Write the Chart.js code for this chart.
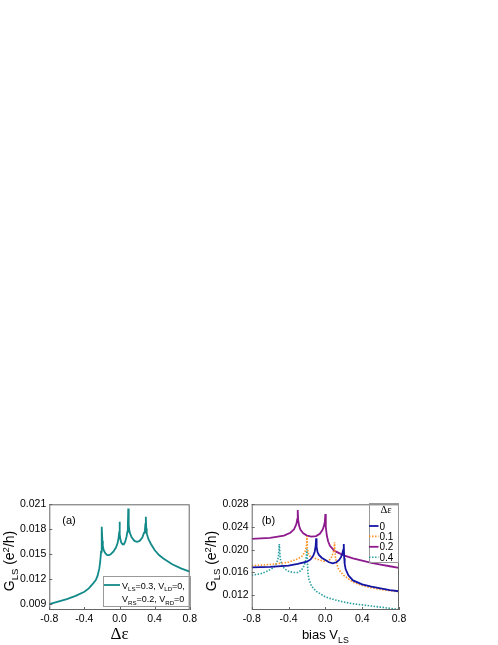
<!DOCTYPE html>
<html lang="en">
<head>
<meta charset="utf-8">
<title>G_LS conductance</title>
<script src="https://cdn.jsdelivr.net/npm/chart.js@4"></script>
<style>
  html, body { margin: 0; padding: 0; background: #fff; width: 498px; height: 645px; overflow: hidden; }
  #chartA { position: absolute; left: 0; top: 495px; }
  #chartB { position: absolute; left: 200px; top: 495px; }
</style>
</head>
<body>
<canvas id="chartA" width="200" height="150"></canvas>
<canvas id="chartB" width="298" height="150"></canvas>

<script>
// ---- data ----
// panel (a): G_LS vs delta epsilon
const xTicks = [-0.8, -0.4, 0.0, 0.4, 0.8];
const yTicksA = [0.009, 0.012, 0.015, 0.018, 0.021];
const yTicksB = [0.012, 0.016, 0.020, 0.024, 0.028];

const epsA = [-0.8, -0.7, -0.6, -0.5, -0.4, -0.35, -0.3, -0.27, -0.25, -0.23, -0.22, -0.21, -0.205, -0.2,
  -0.195, -0.19, -0.18, -0.16, -0.14, -0.12, -0.1, -0.07, -0.04, -0.02, -0.01, -0.005, 0.0,
  0.005, 0.01, 0.02, 0.035, 0.05, 0.065, 0.08, 0.09, 0.095, 0.1,
  0.105, 0.11, 0.12, 0.14, 0.17, 0.2, 0.23, 0.26, 0.28, 0.29, 0.295, 0.3,
  0.305, 0.31, 0.33, 0.36, 0.4, 0.45, 0.5, 0.6, 0.7, 0.8];
const gA = [0.0090, 0.0093, 0.0096, 0.0100, 0.0105, 0.0109, 0.0115, 0.0119, 0.0124, 0.0133, 0.0141, 0.0153, 0.0163, 0.0183,
  0.0166, 0.0160, 0.0155, 0.0151, 0.0149, 0.0149, 0.0150, 0.0153, 0.0158, 0.0164, 0.0170, 0.0175, 0.0189,
  0.0174, 0.0168, 0.0164, 0.0162, 0.0162, 0.0165, 0.0171, 0.0177, 0.0184, 0.0205,
  0.0186, 0.0180, 0.0175, 0.0170, 0.0166, 0.0165, 0.0166, 0.0170, 0.0176, 0.0180, 0.0186, 0.0195,
  0.0181, 0.0175, 0.0168, 0.0162, 0.0155, 0.0149, 0.0145, 0.0138, 0.0133, 0.0129];

// panel (b): G_LS vs bias V_LS, one pair of arrays per delta epsilon
const vb0 = [-0.8, -0.6, -0.4, -0.3, -0.2, -0.16, -0.13, -0.115, -0.105, -0.1, -0.095, -0.085, -0.07, -0.04,
  0.0, 0.04, 0.08, 0.12, 0.15, 0.17, 0.185, 0.195, 0.2, 0.205, 0.21, 0.22, 0.25, 0.3, 0.4, 0.5, 0.6, 0.7, 0.8];
const g0 = [0.0169, 0.0170, 0.0172, 0.0175, 0.0179, 0.0183, 0.0190, 0.0197, 0.0207, 0.0220, 0.0205, 0.0196, 0.0191, 0.0186,
  0.0182, 0.0178, 0.0176, 0.0178, 0.0182, 0.0187, 0.0194, 0.0200, 0.0210, 0.0185, 0.0175, 0.0166, 0.0155, 0.0146, 0.0139, 0.0135, 0.0132, 0.0129, 0.0127];

const vb1 = [-0.8, -0.6, -0.4, -0.3, -0.25, -0.22, -0.205, -0.2, -0.195, -0.185, -0.17, -0.13, -0.08, -0.02,
  0.02, 0.05, 0.07, 0.085, 0.095, 0.1, 0.105, 0.11, 0.12, 0.14, 0.17, 0.2, 0.3, 0.4, 0.5, 0.6, 0.7, 0.8];
const g1 = [0.0172, 0.0174, 0.0178, 0.0184, 0.0189, 0.0197, 0.0207, 0.0224, 0.0202, 0.0193, 0.0189, 0.0186, 0.0183, 0.0180,
  0.0180, 0.0183, 0.0188, 0.0195, 0.0203, 0.0213, 0.0196, 0.0186, 0.0178, 0.0167, 0.0160, 0.0155, 0.0143, 0.0137, 0.0133, 0.0130, 0.0128, 0.0126];

const vb2 = [-0.8, -0.6, -0.45, -0.38, -0.34, -0.315, -0.305, -0.3, -0.295, -0.285, -0.27, -0.24, -0.2, -0.15,
  -0.1, -0.06, -0.03, -0.015, -0.005, 0.0, 0.005, 0.015, 0.03, 0.05, 0.1, 0.15, 0.2, 0.3, 0.4, 0.5, 0.6, 0.7, 0.8];
const g2 = [0.0219, 0.0221, 0.0225, 0.0230, 0.0236, 0.0245, 0.0254, 0.0270, 0.0252, 0.0242, 0.0235, 0.0229, 0.0225, 0.0223,
  0.0224, 0.0228, 0.0235, 0.0242, 0.0250, 0.0263, 0.0240, 0.0226, 0.0215, 0.0207, 0.0198, 0.0194, 0.0190, 0.0185, 0.0181, 0.0177, 0.0174, 0.0171, 0.0168];

const vb4 = [-0.8, -0.7, -0.62, -0.56, -0.53, -0.51, -0.5, -0.49, -0.47, -0.44, -0.4, -0.35, -0.3, -0.26,
  -0.23, -0.21, -0.2, -0.19, -0.18, -0.15, -0.1, -0.05, 0.0, 0.1, 0.2, 0.3, 0.4, 0.5, 0.6, 0.7, 0.8];
const g4 = [0.0155, 0.0158, 0.0163, 0.0169, 0.0176, 0.0187, 0.0210, 0.0185, 0.0172, 0.0166, 0.0162, 0.0160, 0.0160, 0.0164,
  0.0172, 0.0184, 0.0201, 0.0160, 0.0149, 0.0136, 0.0127, 0.0122, 0.0117, 0.0112, 0.0108, 0.0105, 0.0103, 0.0101, 0.0099, 0.0097, 0.0095];

const SANS = '"Liberation Sans", Arial, sans-serif';
const SERIF = '"Liberation Serif", "Times New Roman", serif';

function pts(xs, ys) {
  return xs.map((x, i) => ({ x: x, y: ys[i] }));
}

// text with sub/superscripts: parts = [[text, 'sub'|'sup'|'' ], ...]
function rich(ctx, parts, x, y, size, align, family) {
  const small = size * 0.68;
  let w = 0;
  parts.forEach(p => {
    ctx.font = (p[1] ? small : size) + 'px ' + (family || SANS);
    w += ctx.measureText(p[0]).width;
  });
  let cx = align === 'center' ? x - w / 2 : (align === 'right' ? x - w : x);
  ctx.textAlign = 'left';
  ctx.textBaseline = 'alphabetic';
  ctx.fillStyle = '#000';
  parts.forEach(p => {
    ctx.font = (p[1] ? small : size) + 'px ' + (family || SANS);
    const dy = p[1] === 'sub' ? size * 0.3 : (p[1] === 'sup' ? -size * 0.38 : 0);
    ctx.fillText(p[0], cx, y + dy);
    cx += ctx.measureText(p[0]).width;
  });
}

// box round the plot plus short inward ticks
const framePlugin = {
  id: 'frame',
  afterDatasetsDraw(chart) {
    const ctx = chart.ctx, a = chart.chartArea;
    const sx = chart.scales.x, sy = chart.scales.y;
    ctx.save();
    ctx.strokeStyle = '#666';
    ctx.lineWidth = 1;
    ctx.strokeRect(a.left + 0.5, a.top + 0.5, a.right - a.left - 1, a.bottom - a.top - 1);
    ctx.beginPath();
    sx.ticks.forEach(t => {
      const px = Math.round(sx.getPixelForValue(t.value)) + 0.5;
      ctx.moveTo(px, a.bottom); ctx.lineTo(px, a.bottom - 3);
    });
    sy.ticks.forEach(t => {
      const py = Math.round(sy.getPixelForValue(t.value)) + 0.5;
      ctx.moveTo(a.left, py); ctx.lineTo(a.left + 3, py);
    });
    ctx.stroke();
    ctx.restore();
  }
};

function axes(ymin, ymax, yTicks, yWidth) {
  return {
    x: {
      type: 'linear', min: -0.8, max: 0.8,
      afterBuildTicks: s => { s.ticks = xTicks.map(v => ({ value: v })); },
      afterFit: s => { s.height = 35; },
      ticks: { callback: v => v.toFixed(1), color: '#000', font: { family: SANS, size: 10.5 }, padding: 3, maxRotation: 0, autoSkip: false },
      grid: { display: false, drawTicks: false },
      border: { display: false }
    },
    y: {
      type: 'linear', min: ymin, max: ymax,
      afterBuildTicks: s => { s.ticks = yTicks.map(v => ({ value: v })); },
      afterFit: s => { s.width = yWidth; },
      ticks: { callback: v => v.toFixed(3), color: '#000', font: { family: SANS, size: 10.5 }, padding: 3 },
      grid: { display: false, drawTicks: false },
      border: { display: false }
    }
  };
}

const yTitle = [['G', ''], ['LS', 'sub'], [' (e', ''], ['2', 'sup'], ['/h)', '']];

// ---- panel (a) ----
new Chart(document.getElementById('chartA'), {
  type: 'line',
  data: {
    datasets: [{
      data: pts(epsA, gA),
      borderColor: '#138a8a', borderWidth: 1.8,
      pointRadius: 0, tension: 0, fill: false
    }]
  },
  options: {
    responsive: false, animation: false,
    layout: { padding: { left: 0, top: 8, right: 4, bottom: 0 } },
    plugins: { legend: { display: false }, tooltip: { enabled: false } },
    scales: axes(0.0083, 0.021, yTicksA, 49.3)
  },
  plugins: [framePlugin, {
    id: 'textA',
    afterDraw(chart) {
      const ctx = chart.ctx, a = chart.chartArea;
      ctx.save();
      ctx.translate(14, 66);
      ctx.rotate(-Math.PI / 2);
      rich(ctx, yTitle, 0, 0, 14, 'center');
      ctx.restore();
      ctx.save();
      rich(ctx, [['\u0394\u03b5', '']], (a.left + a.right) / 2, 144, 17, 'center', SERIF);
      rich(ctx, [['(a)', '']], a.left + 13, 29, 11, 'left');
      // legend box
      ctx.strokeStyle = '#999';
      ctx.lineWidth = 1;
      ctx.strokeRect(103.5, 81.5, 87, 30);
      ctx.strokeStyle = '#138a8a';
      ctx.lineWidth = 1.8;
      ctx.beginPath(); ctx.moveTo(104, 90); ctx.lineTo(120, 90); ctx.stroke();
      rich(ctx, [['V', ''], ['LS', 'sub'], ['=0.3, V', ''], ['LD', 'sub'], ['=0,', '']], 122, 93.5, 9, 'left');
      rich(ctx, [['V', ''], ['RS', 'sub'], ['=0.2, V', ''], ['RD', 'sub'], ['=0', '']], 122, 107, 9, 'left');
      ctx.restore();
    }
  }]
});

// ---- panel (b) ----
const seriesB = [
  { label: '0', xs: vb0, ys: g0, color: '#1515a3', dash: [], width: 1.8 },
  { label: '0.1', xs: vb1, ys: g1, color: '#ff9426', dash: [1.5, 1.5], width: 1.6 },
  { label: '0.2', xs: vb2, ys: g2, color: '#8e1a8e', dash: [], width: 1.8 },
  { label: '0.4', xs: vb4, ys: g4, color: '#2a9f9f', dash: [1.5, 1.5], width: 1.6 }
];

new Chart(document.getElementById('chartB'), {
  type: 'line',
  data: {
    datasets: seriesB.map(s => ({
      label: s.label,
      data: pts(s.xs, s.ys),
      borderColor: s.color, borderWidth: s.width, borderDash: s.dash,
      pointRadius: 0, tension: 0, fill: false
    }))
  },
  options: {
    responsive: false, animation: false,
    layout: { padding: { left: 0, top: 8, right: 99, bottom: 0 } },
    plugins: { legend: { display: false }, tooltip: { enabled: false } },
    scales: axes(0.0094, 0.028, yTicksB, 51.7)
  },
  plugins: [framePlugin, {
    id: 'textB',
    afterDraw(chart) {
      const ctx = chart.ctx, a = chart.chartArea;
      ctx.save();
      ctx.translate(16, 66);
      ctx.rotate(-Math.PI / 2);
      rich(ctx, yTitle, 0, 0, 14, 'center');
      ctx.restore();
      ctx.save();
      rich(ctx, [['bias V', ''], ['LS', 'sub']], (a.left + a.right) / 2, 144, 13, 'center');
      rich(ctx, [['(b)', '']], a.left + 10, 29, 11, 'left');
      // legend box
      ctx.strokeStyle = '#999';
      ctx.lineWidth = 1;
      ctx.strokeRect(169.5, 8.5, 29, 59);
      rich(ctx, [['\u0394\u03b5', '']], 186, 18, 10.5, 'center', SERIF);
      seriesB.forEach((s, i) => {
        const yy = 31 + i * 10.4;
        ctx.strokeStyle = s.color;
        ctx.lineWidth = s.width;
        ctx.setLineDash(s.dash);
        ctx.beginPath(); ctx.moveTo(169, yy); ctx.lineTo(178.5, yy); ctx.stroke();
        ctx.setLineDash([]);
        rich(ctx, [[s.label, '']], 179.5, yy + 3.6, 10, 'left');
      });
      ctx.restore();
    }
  }]
});
</script>
</body>
</html>
